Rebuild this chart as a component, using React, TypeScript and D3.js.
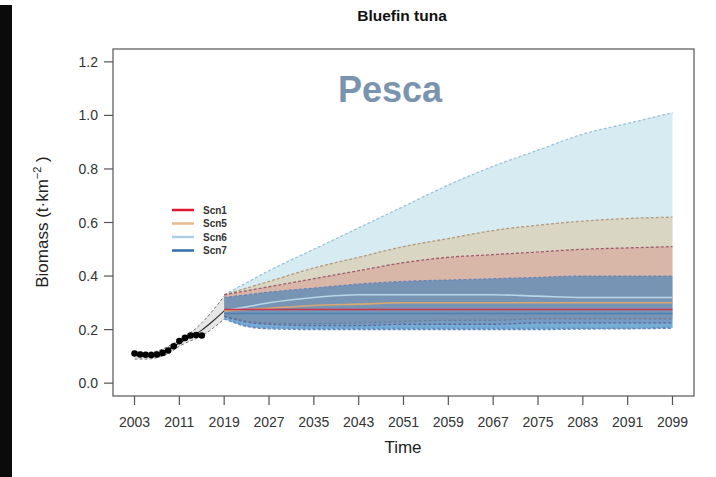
import * as d3 from 'd3'

// observed biomass (black dots)
const obsYears = [2003, 2004, 2005, 2006, 2007, 2008, 2009, 2010, 2011, 2012, 2013, 2014, 2015]
const obsValues = [0.111, 0.107, 0.106, 0.105, 0.107, 0.113, 0.122, 0.138, 0.157, 0.169, 0.178, 0.18, 0.178]

// hindcast fit with confidence band
const fitYears = [2003, 2005, 2007, 2009, 2011, 2013, 2015, 2017, 2019]
const fitMid = [0.105, 0.103, 0.108, 0.125, 0.15, 0.172, 0.198, 0.232, 0.27]
const fitUpper = [0.12, 0.115, 0.12, 0.137, 0.162, 0.188, 0.225, 0.272, 0.325]
const fitLower = [0.09, 0.09, 0.095, 0.11, 0.138, 0.158, 0.176, 0.205, 0.24]

// projections
const projYears = [2019, 2023, 2027, 2035, 2043, 2051, 2059, 2067, 2075, 2083, 2091, 2099]

const scn6Upper = [0.33, 0.375, 0.42, 0.5, 0.58, 0.66, 0.74, 0.81, 0.87, 0.93, 0.97, 1.01]
const scn6Mid = [0.27, 0.285, 0.3, 0.32, 0.33, 0.33, 0.33, 0.33, 0.325, 0.32, 0.32, 0.32]
const scn6Lower = [0.25, 0.215, 0.208, 0.205, 0.205, 0.205, 0.205, 0.205, 0.205, 0.205, 0.205, 0.21]

const scn5Upper = [0.33, 0.355, 0.38, 0.43, 0.47, 0.51, 0.54, 0.57, 0.59, 0.605, 0.615, 0.62]
const scn5Mid = [0.27, 0.275, 0.28, 0.29, 0.295, 0.3, 0.3, 0.3, 0.3, 0.3, 0.3, 0.3]
const scn5Lower = [0.25, 0.232, 0.225, 0.222, 0.225, 0.23, 0.235, 0.235, 0.24, 0.24, 0.24, 0.24]

const scn1Upper = [0.33, 0.345, 0.36, 0.39, 0.42, 0.45, 0.47, 0.48, 0.49, 0.5, 0.505, 0.51]
const scn1Mid = [0.275, 0.275, 0.275, 0.275, 0.275, 0.275, 0.275, 0.275, 0.275, 0.275, 0.275, 0.275]
const scn1Lower = [0.25, 0.228, 0.22, 0.215, 0.215, 0.22, 0.22, 0.22, 0.225, 0.225, 0.225, 0.225]

const scn7Upper = [0.32, 0.33, 0.34, 0.355, 0.37, 0.38, 0.385, 0.39, 0.395, 0.4, 0.4, 0.4]
const scn7Mid = [0.26, 0.26, 0.26, 0.26, 0.26, 0.26, 0.26, 0.26, 0.26, 0.26, 0.26, 0.26]
const scn7Lower = [0.24, 0.212, 0.203, 0.2, 0.2, 0.2, 0.2, 0.2, 0.2, 0.202, 0.203, 0.205]

const xTicks = [2003, 2011, 2019, 2027, 2035, 2043, 2051, 2059, 2067, 2075, 2083, 2091, 2099]
const yTicks = [0, 0.2, 0.4, 0.6, 0.8, 1.0, 1.2]

const legendNames = ['Scn1', 'Scn5', 'Scn6', 'Scn7']
const legendColors = ['#e0182e', '#e8b98c', '#a9d0e6', '#2f6eaa']

const scenarios = [
  { upper: scn6Upper, mid: scn6Mid, lower: scn6Lower, fill: '#add8e6', op: 0.5, line: '#9cc3d8', midLine: '#b9d6e6' },
  { upper: scn5Upper, mid: scn5Mid, lower: scn5Lower, fill: '#e0b070', op: 0.35, line: '#b89a78', midLine: '#d9a870' },
  { upper: scn1Upper, mid: scn1Mid, lower: scn1Lower, fill: '#dc3c3c', op: 0.2, line: '#a05a70', midLine: '#c8324a' },
  { upper: scn7Upper, mid: scn7Mid, lower: scn7Lower, fill: '#2878be', op: 0.55, line: '#6a86b8', midLine: '#4a7fb5' },
]

export default function App() {
  const x = d3.scaleLinear().domain([2003 - 3.84, 2099 + 3.84]).range([113, 694])
  const y = d3.scaleLinear().domain([-0.048, 1.248]).range([396, 49])

  const line = d3.line<[number, number]>()
    .x(d => x(d[0]))
    .y(d => y(d[1]))
    .curve(d3.curveMonotoneX)

  const area = (yrs: number[], lo: number[], hi: number[]) =>
    d3.area<number>()
      .x((_, i) => x(yrs[i]))
      .y0((_, i) => y(lo[i]))
      .y1((_, i) => y(hi[i]))
      .curve(d3.curveMonotoneX)(yrs) || ''

  const pts = (yrs: number[], vals: number[]) => yrs.map((yr, i) => [yr, vals[i]] as [number, number])

  const font = "'Liberation Sans', Arial, sans-serif"

  return (
    <svg width={716} height={477} style={{ position: 'absolute', left: 0, top: 0, background: '#fff' }}>
      <rect x={0} y={5} width={12} height={472} fill="#0b0b0b" />

      <text x={402} y={21} textAnchor="middle" fontFamily={font} fontWeight="bold" fontSize={15.5} fill="#111">
        Bluefin tuna
      </text>

      {/* hindcast band */}
      <path d={area(fitYears, fitLower, fitUpper)} fill="#e6e6e6" />
      <path d={line(pts(fitYears, fitUpper)) || ''} fill="none" stroke="#777" strokeWidth={1} strokeDasharray="3,2" />
      <path d={line(pts(fitYears, fitLower)) || ''} fill="none" stroke="#777" strokeWidth={1} strokeDasharray="3,2" />

      {/* projection bands */}
      {scenarios.map((s, i) => (
        <g key={i}>
          <path d={area(projYears, s.lower, s.upper)} fill={s.fill} fillOpacity={s.op} />
          <path d={line(pts(projYears, s.upper)) || ''} fill="none" stroke={s.line} strokeWidth={1.3} strokeDasharray="3,2" />
          <path d={line(pts(projYears, s.lower)) || ''} fill="none" stroke={s.line} strokeWidth={1.3} strokeDasharray="3,2" />
        </g>
      ))}
      {scenarios.map((s, i) => (
        <path key={i} d={line(pts(projYears, s.mid)) || ''} fill="none" stroke={s.midLine} strokeWidth={1.6} />
      ))}

      <path d={line(pts(fitYears, fitMid)) || ''} fill="none" stroke="#333" strokeWidth={1.2} />

      {obsYears.map((yr, i) => (
        <circle key={yr} cx={x(yr)} cy={y(obsValues[i])} r={3.3} fill="#000" />
      ))}

      {/* frame */}
      <rect x={113} y={49} width={581} height={347} fill="none" stroke="#555" strokeWidth={1.2} />

      {/* x axis */}
      {xTicks.map(t => (
        <g key={t}>
          <line x1={x(t)} x2={x(t)} y1={396} y2={405} stroke="#555" strokeWidth={1.2} />
          <text x={x(t)} y={427} textAnchor="middle" fontFamily={font} fontSize={14} fill="#333">{t}</text>
        </g>
      ))}
      <text x={403} y={453} textAnchor="middle" fontFamily={font} fontSize={17} fill="#222">Time</text>

      {/* y axis */}
      {yTicks.map(t => (
        <g key={t}>
          <line x1={104} x2={113} y1={y(t)} y2={y(t)} stroke="#555" strokeWidth={1.2} />
          <text x={98} y={y(t) + 5} textAnchor="end" fontFamily={font} fontSize={14} fill="#333">{t.toFixed(1)}</text>
        </g>
      ))}
      <text transform="translate(48,222) rotate(-90)" textAnchor="middle" fontFamily={font} fontSize={17} fill="#222">
        Biomass (t·km<tspan dy={-7} fontSize={11}>−2</tspan><tspan dy={7}> )</tspan>
      </text>

      {/* legend */}
      {legendNames.map((n, i) => (
        <g key={n}>
          <line x1={172} x2={194} y1={210 + i * 13.5} y2={210 + i * 13.5} stroke={legendColors[i]} strokeWidth={2.5} />
          <text x={203} y={213.5 + i * 13.5} fontFamily={font} fontWeight="bold" fontSize={10} fill="#333">{n}</text>
        </g>
      ))}

      <text x={390} y={102} textAnchor="middle" fontFamily={font} fontWeight="bold" fontSize={36} fill="#7a93ae">
        Pesca
      </text>
    </svg>
  )
}
